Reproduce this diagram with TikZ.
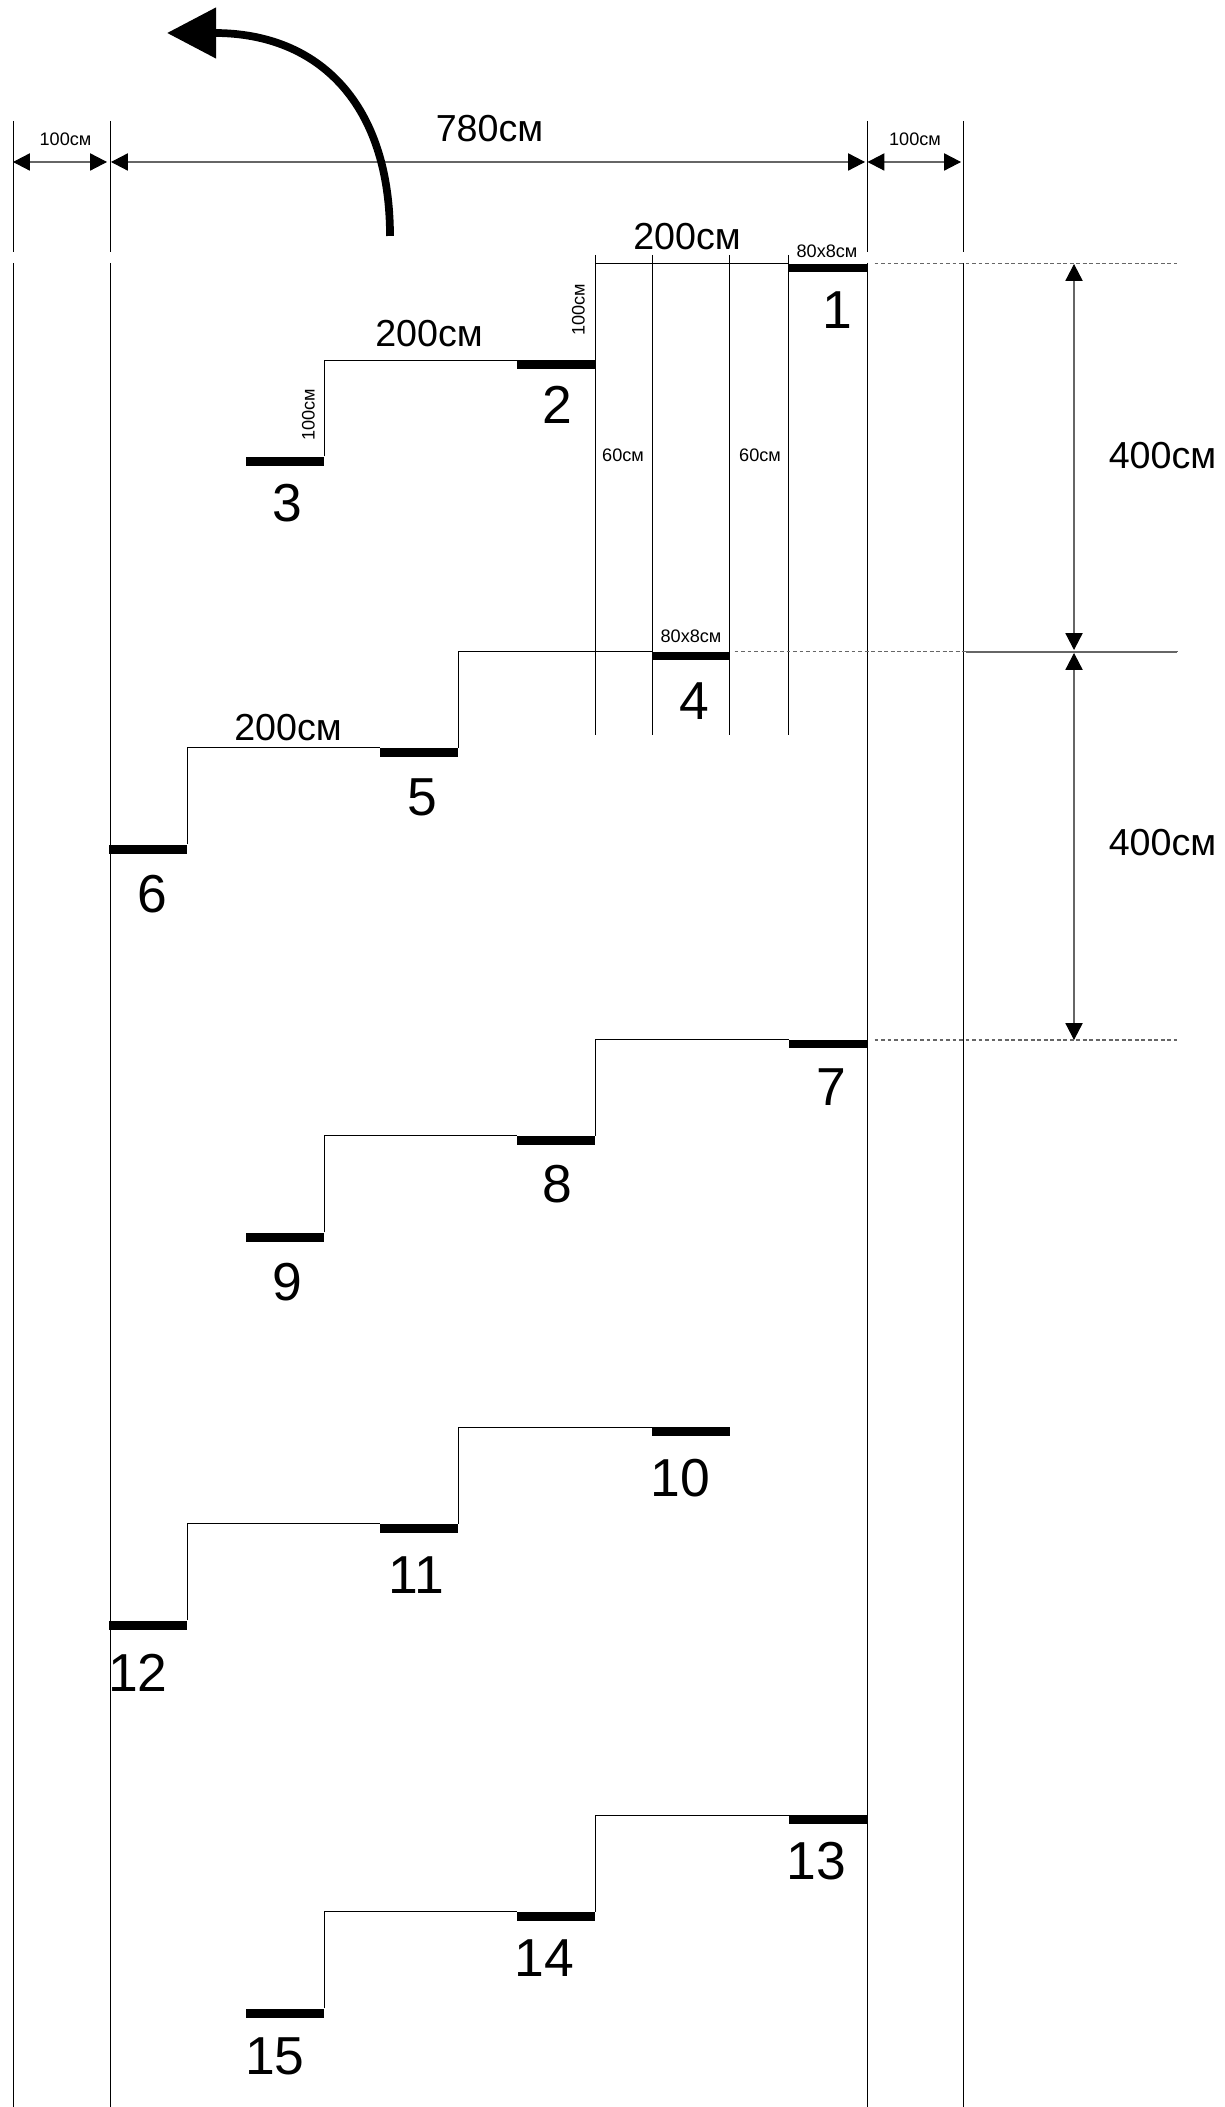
\documentclass[tikz,border=0pt]{standalone}
\usepackage{fontspec}
\usetikzlibrary{arrows.meta}
\setmainfont{Liberation Sans}
\tikzset{
    wire/.style={line width=0.28pt},
    dimline/.style={line width=0.3pt,draw=black!60,{Triangle[length=4.8pt,width=4.9pt,black]}-{Triangle[length=4.8pt,width=4.9pt,black]}},
    guide/.style={line width=0.35pt,draw=black!60,dash pattern=on 1.1pt off 0.75pt},
    big/.style={font=\fontsize{10.7}{11}\selectfont,inner sep=0pt},
    tiny/.style={font=\fontsize{5.15}{6}\selectfont,inner sep=0pt},
    num/.style={font=\fontsize{15.2}{16}\selectfont,inner sep=0pt}
}
\begin{document}
\begin{tikzpicture}[x=0.01cm,y=-0.01cm]
    \useasboundingbox (0,0) rectangle (1225,2107);
    % walls
    \foreach \x in {13,110,867,963.5} {
        \draw[wire] (\x,121) -- (\x,252);
        \draw[wire] (\x,263) -- (\x,2107);
    }
    % flights of steps
    \foreach \f/\dx in {0/0,1/-137,2/0,3/-137,4/0} {
        \begin{scope}[shift={(\dx,\f*387.9)}]
            \draw[wire] (324,456.5) -- (324,360) -- (517,360);
            \draw[wire] (595,360) -- (595,263.7) -- (789,263.7);
            \fill (246,457.5) rectangle +(78,8.5);
            \fill (517,360.5) rectangle +(78,8.5);
            \fill (789,263.7) rectangle +(78,8.5);
        \end{scope}
    }
    % rails of step 1 and 4
    \foreach \x in {595,652.5,729.5,788.5}
        \draw[wire] (\x,255) -- (\x,735);
    % dimensions
    \draw[dimline] (13,162) -- (107,162);
    \draw[dimline] (111,162) -- (865,162);
    \draw[dimline] (867.5,162) -- (961,162);
    \draw[dimline] (1074,264) -- (1074,650);
    \draw[dimline] (1074,653) -- (1074,1040);
    \draw[guide] (874.5,263.7) -- (1177,263.7);
    \draw[guide] (734.5,651.7) -- (1177,651.7);
    \draw[guide] (874.5,1040) -- (1177,1040);
    \draw[line width=0.3pt,draw=black!60] (966,652) -- (1177,652);
    % direction of travel
    \draw[line width=2.2pt,-{Triangle[length=14pt,width=14pt]}] (390,236) .. controls (390,105) and (320,33) .. (167,33);
    \node[big] (wholewidth) at (489.5,128.5) {780см};
    \node[big] (runa) at (687,236.5) {200см};
    \node[big] (runb) at (429,333.5) {200см};
    \node[big] (runc) at (288,727.5) {200см};
    \node[big] (heighta) at (1162.5,455.5) {400см};
    \node[big] (heightb) at (1162.5,842.5) {400см};
    \node[tiny] (marginl) at (65.5,139) {100см};
    \node[tiny] (marginr) at (915,139) {100см};
    \node[tiny] (treada) at (827,251) {80x8см};
    \node[tiny] (treadb) at (691,636) {80x8см};
    \node[tiny] (gapa) at (623,455.5) {60см};
    \node[tiny] (gapb) at (760,455.5) {60см};
    \node[tiny,rotate=90] (risea) at (578.5,310) {100см};
    \node[tiny,rotate=90] (riseb) at (308.5,415) {100см};
    % step numbers
    \foreach \n/\x/\y in {1/837/310,2/557/405,3/287/503,4/694/701,5/422/797,6/152/894,7/831/1087,8/557/1184,9/287/1282,10/680/1478,11/416/1575,12/138/1673,13/816/1861,14/544/1958,15/275/2056}
        \node[num] (step\n) at (\x,\y) {\n};
\end{tikzpicture}
\end{document}
